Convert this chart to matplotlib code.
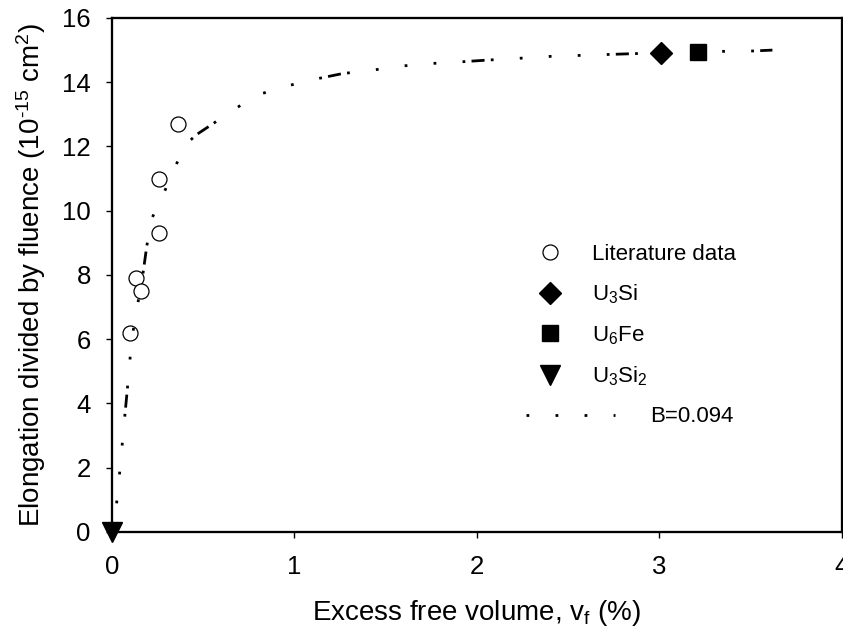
import matplotlib
matplotlib.use('Agg')
import matplotlib.pyplot as plt

plt.rcParams['font.family'] = ['Liberation Sans', 'DejaVu Sans']
plt.rcParams['mathtext.fontset'] = 'custom'
plt.rcParams['mathtext.rm'] = 'Liberation Sans'
plt.rcParams['mathtext.it'] = 'Liberation Sans:italic'
plt.rcParams['lines.scale_dashes'] = False

# literature data (circles)
lit_x = [0.10, 0.13, 0.16, 0.26, 0.26, 0.36]
lit_y = [6.2, 7.9, 7.5, 9.3, 11.0, 12.7]

# present alloys
u3si_x, u3si_y = [3.01], [14.9]
u6fe_x, u6fe_y = [3.21], [14.93]
u3si2_x, u3si2_y = [0.0], [0.0]

# fitted curve, B=0.094
fit_x = [0, 0.022, 0.038, 0.053, 0.067, 0.082, 0.097, 0.105, 0.14, 0.168,
         0.19, 0.205, 0.22, 0.294, 0.363, 0.39, 0.466, 0.625, 0.784, 0.943,
         1.10, 1.264, 1.42, 1.58, 1.74, 1.90, 2.06, 2.22, 2.38, 2.54, 2.70,
         2.86, 3.02, 3.18, 3.33, 3.50, 3.62]
fit_y = [0, 0.72, 1.62, 2.55, 3.43, 4.33, 5.26, 5.9, 7.07, 7.98,
         8.88, 9.4, 9.78, 10.68, 11.58, 12.0, 12.38, 12.98, 13.58, 13.86,
         14.08, 14.27, 14.37, 14.5, 14.58, 14.63, 14.69, 14.74, 14.8, 14.83, 14.86,
         14.89, 14.91, 14.94, 14.96, 14.97, 15.0]

x_ticks = [0, 1, 2, 3, 4]
y_ticks = [0, 2, 4, 6, 8, 10, 12, 14, 16]

fig = plt.figure(figsize=(8.43, 6.33), dpi=100)
ax = fig.add_axes([0.1329, 0.1596, 0.8656, 0.8120])

# dot dot dot dot dot dash
fit_dash = (0, (2.0, 18.9, 2.0, 18.9, 2.0, 18.9, 2.0, 18.9, 2.0, 4.5, 9.4, 4.5))

h_lit, = ax.plot(lit_x, lit_y, 'o', ms=10.8, mfc='white', mec='black', mew=0.9,
                 zorder=3, label='Literature data')
h_fit, = ax.plot(fit_x, fit_y, color='black', lw=2.0, ls=fit_dash,
                 dash_capstyle='butt', zorder=4, label='B=0.094')
h_si, = ax.plot(u3si_x, u3si_y, 'D', ms=11.5, color='black', zorder=5,
                label=r'U$_{\mathrm{3}}$Si')
h_fe, = ax.plot(u6fe_x, u6fe_y, 's', ms=12, color='black', zorder=5,
                label=r'U$_{\mathrm{6}}$Fe')
h_si2, = ax.plot(u3si2_x, u3si2_y, 'v', ms=14, color='black', zorder=6,
                 clip_on=False, label=r'U$_{\mathrm{3}}$Si$_{\mathrm{2}}$')

ax.set_xlim(0, 4)
ax.set_ylim(0, 16)
ax.set_xticks(x_ticks)
ax.set_yticks(y_ticks)
ax.tick_params(direction='out', length=4.3, width=1.0, labelsize=18.5)
ax.tick_params(axis='y', pad=11)
ax.tick_params(axis='x', pad=12)
for sp in ax.spines.values():
    sp.set_linewidth(1.65)

ax.set_xlabel(r'Excess free volume, v$_{\mathrm{f}}$ (%)', fontsize=20, labelpad=14)
ax.set_ylabel('Elongation divided by fluence (10$^{\\mathrm{\u201015}}$ cm$^{\\mathrm{2}}$)',
              fontsize=20, labelpad=10)

leg1 = ax.legend(handles=[h_lit, h_si, h_fe, h_si2], loc='center left',
                 bbox_to_anchor=(0.585, 0.42), frameon=False, fontsize=16,
                 handlelength=1.0, handletextpad=1.4, labelspacing=0.8,
                 borderpad=0, borderaxespad=0, numpoints=1)
ax.add_artist(leg1)
ax.legend(handles=[h_fit], loc='center left', bbox_to_anchor=(0.567, 0.224),
          frameon=False, fontsize=16, handlelength=4.0, handletextpad=1.6,
          borderpad=0, borderaxespad=0)

fig.savefig('out.png', dpi=100)
